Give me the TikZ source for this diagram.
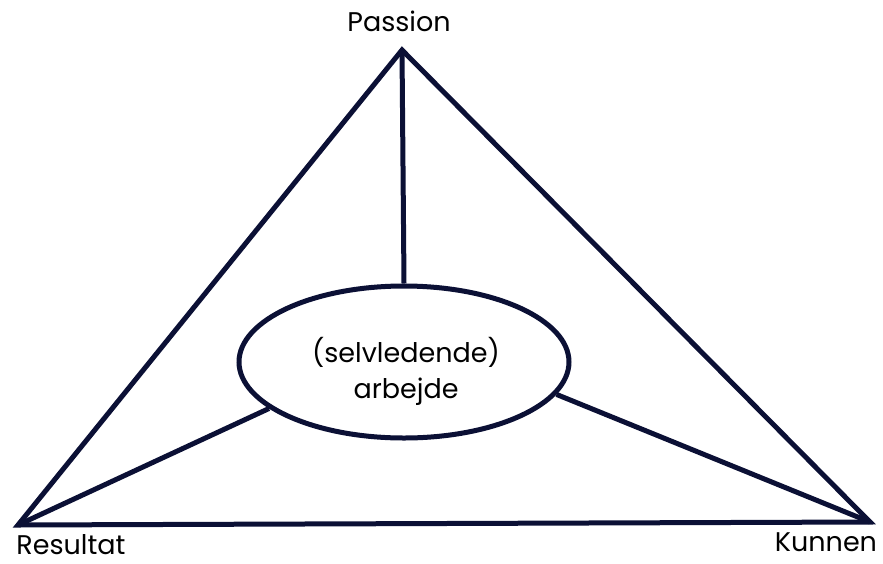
\documentclass[tikz,border=0pt]{standalone}
\usepackage{fontspec}
\setmainfont{Poppins}
\usetikzlibrary{shapes.geometric}
\definecolor{navy}{HTML}{0B1035}
\tikzset{
  edge/.style={draw=navy, line width=5pt},
  lbl/.style={font=\fontsize{27}{36}\selectfont, text=black, inner sep=0pt}
}
\begin{document}
\begin{tikzpicture}[x=1pt,y=-1pt]
\useasboundingbox (0,0) rectangle (883,563);
\coordinate (P) at (402,50);
\coordinate (R) at (18,525);
\coordinate (K) at (870,522);
\node[ellipse, edge, fill=white, minimum width=330pt, minimum height=152pt, inner sep=0pt] (E) at (404,362) {};
\node[lbl, align=center] (T) at (406,371) {(selvledende)\\arbejde};
\draw[edge, miter limit=10] (P) -- (K) -- (R) -- cycle;
\draw[edge] (P) -- (E.north);
\draw[edge] (R) -- (E.199);
\draw[edge] (K) -- (E.-12);
\node[lbl] (lp) at (399,21) {Passion};
\node[lbl] (lr) at (71,545) {Resultat};
\node[lbl] (lk) at (826,542) {Kunnen};
\end{tikzpicture}
\end{document}
